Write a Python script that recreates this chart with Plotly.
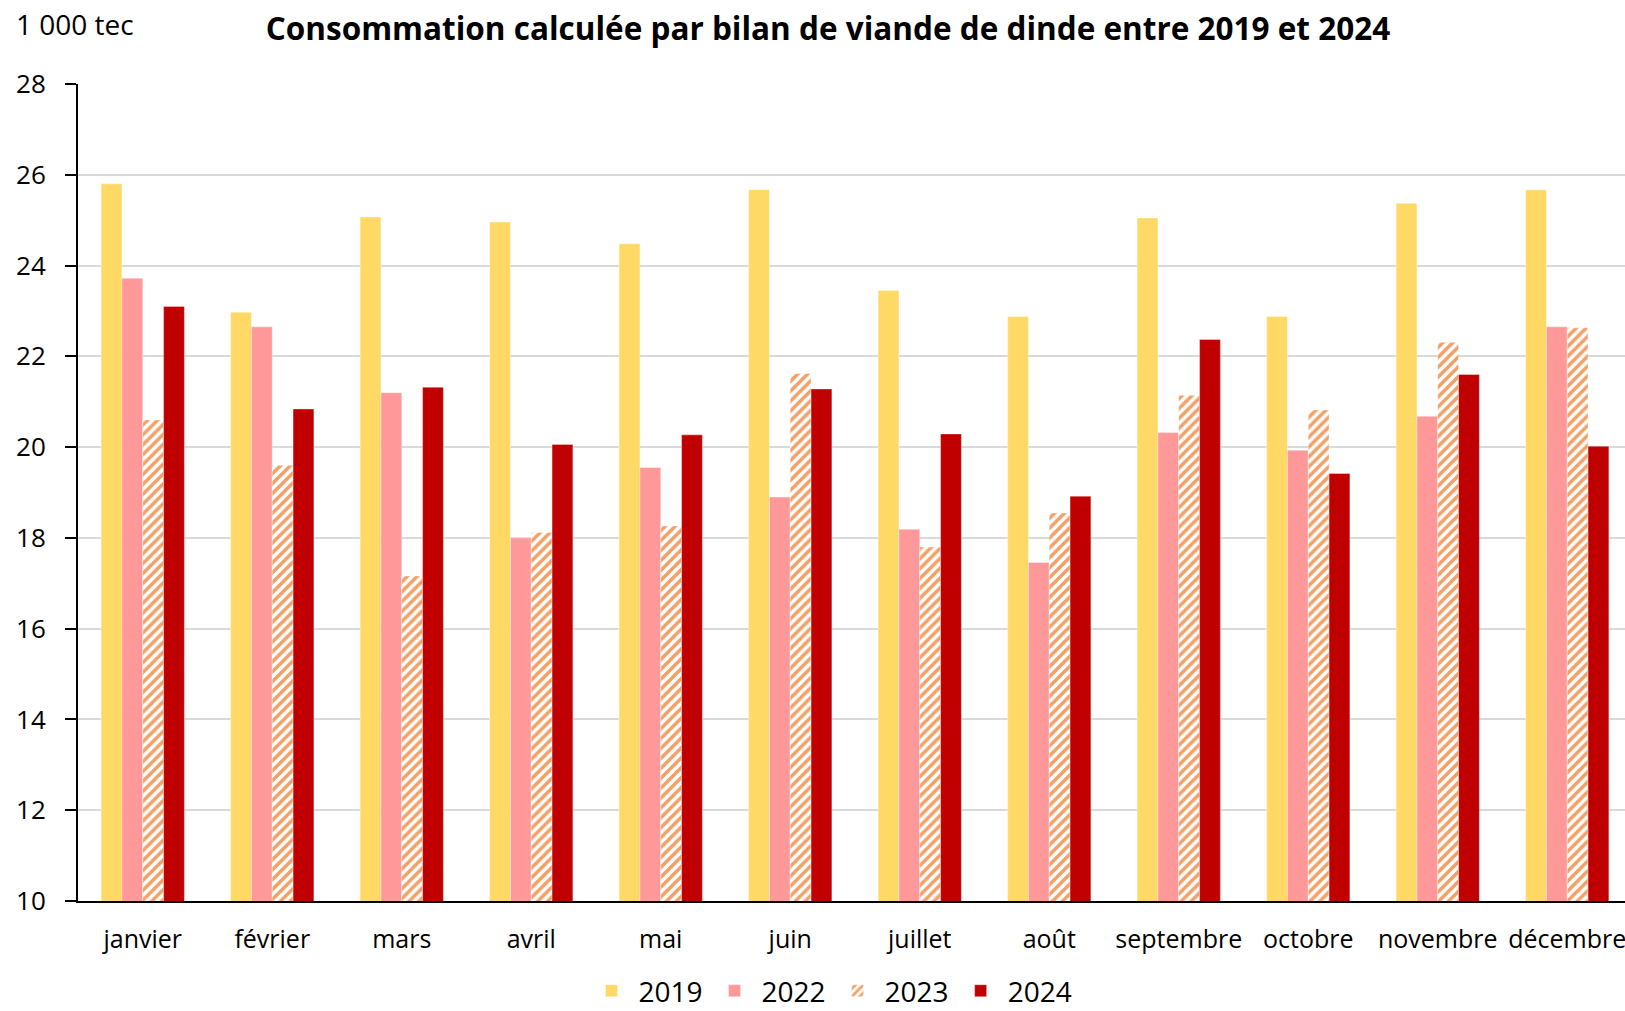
import plotly.graph_objects as go

months = ["janvier", "février", "mars", "avril", "mai", "juin", "juillet",
          "août", "septembre", "octobre", "novembre", "décembre"]
v2019 = [25.80, 22.97, 25.07, 24.96, 24.48, 25.67, 23.45, 22.88, 25.05, 22.88, 25.37, 25.67]
v2022 = [23.72, 22.65, 21.20, 18.00, 19.55, 18.90, 18.19, 17.46, 20.32, 19.93, 20.68, 22.65]
v2023 = [20.60, 19.60, 17.16, 18.12, 18.26, 21.62, 17.80, 18.55, 21.14, 20.82, 22.31, 22.63]
v2024 = [23.10, 20.84, 21.32, 20.06, 20.27, 21.28, 20.29, 18.92, 22.37, 19.42, 21.60, 20.02]
y_ticks = [10, 12, 14, 16, 18, 20, 22, 24, 26, 28]

FONT = "Open Sans"
W, H = 1625, 1011
L, R, T, B = 78, 0, 84, 110
fig = go.Figure()
edge = dict(width=0.6, color="rgba(255,255,255,0.6)")
fig.add_bar(name="2019", x=months, y=v2019, marker=dict(color="#FFD966", line=edge))
fig.add_bar(name="2022", x=months, y=v2022, marker=dict(color="#FF9999", line=edge))
fig.add_bar(name="2023", x=months, y=v2023,
            marker=dict(color="white", line=edge,
                        pattern=dict(shape="/", fgcolor="#F2A066", bgcolor="white",
                                     size=7, solidity=0.5, fgopacity=1)))
fig.add_bar(name="2024", x=months, y=v2024, marker=dict(color="#C00000", line=edge))

fig.update_layout(
    width=W, height=H,
    paper_bgcolor="white", plot_bgcolor="white",
    margin=dict(l=L, r=R, t=T, b=B, autoexpand=False),
    barmode="group", bargap=0.357, bargroupgap=0,
    font=dict(family=FONT, color="black", size=24),
    title=dict(text="<b>Consommation calculée par bilan de viande de dinde entre 2019 et 2024</b>",
               x=828 / W, xanchor="center", y=1 - 29 / H, yanchor="middle",
               xref="container", yref="container", automargin=False,
               font=dict(family=FONT, size=31.5, color="black")),
    legend=dict(orientation="h", x=831 / W, xanchor="center", y=1 - 991 / H, yanchor="middle",
                xref="container", yref="container",
                font=dict(family=FONT, size=28), itemwidth=44, traceorder="normal",
                bgcolor="rgba(0,0,0,0)"),
    showlegend=True,
)
fig.update_xaxes(range=[-0.5, 11.446], showline=True, linecolor="black", linewidth=2,
                 ticks="", showgrid=False, tickfont=dict(size=25), ticklabelstandoff=15,
                 automargin=False)
fig.update_yaxes(range=[10, 28], tickvals=y_ticks, showline=True, linecolor="black", linewidth=2,
                 ticks="outside", ticklen=11, tickwidth=2, tickcolor="black",
                 showgrid=True, gridcolor="#D9D9D9", gridwidth=2, zeroline=False,
                 tickfont=dict(size=26), ticklabelstandoff=14, automargin=False)
fig.add_annotation(text="1 000 tec", xref="paper", yref="paper",
                   x=-(L - 14) / (W - L - R), y=1 + (T - 24) / (H - T - B),
                   xanchor="left", yanchor="middle", showarrow=False,
                   font=dict(family=FONT, size=28, color="black"))
fig.write_html("out.html", config={"displayModeBar": False},
               post_script="document.body.style.margin='0';document.body.style.overflow='hidden';")
